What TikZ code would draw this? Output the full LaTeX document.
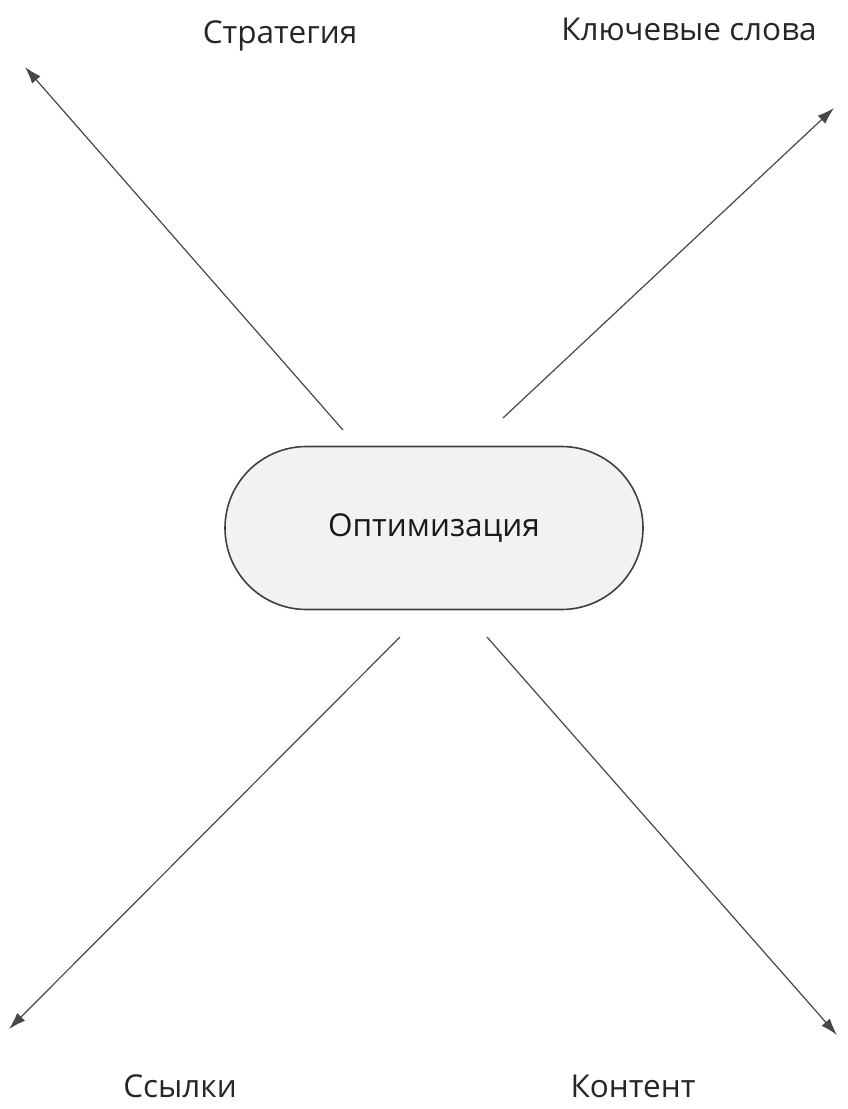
\documentclass[tikz,border=0pt]{standalone}
\usepackage{fontspec}
\setmainfont{Open Sans}
\usetikzlibrary{arrows.meta,shapes.misc}
\begin{document}
\begin{tikzpicture}[x=1pt,y=-1pt,
  lbl/.style={font=\fontsize{31.5}{36}\selectfont, text=black!85, inner sep=0pt, anchor=base, text depth=0pt},
  arr/.style={draw=black!72, line width=1.2pt, -{Latex[length=17pt,width=11pt]}},
  hub/.style={rounded rectangle, draw=black!75, line width=1.6pt, fill=black!5,
    minimum width=418pt, minimum height=163pt, inner sep=0pt,
    font=\fontsize{31.5}{36}\selectfont, text=black!90}]
\useasboundingbox (0,0) rectangle (847,1109);
\node[hub] (c) at (434,528) {Оптимизация};
\node[lbl] (s) at (280,43) {Стратегия};
\node[lbl] (k) at (689,40) {Ключевые слова};
\node[lbl] (l) at (180,1097) {Ссылки};
\node[lbl] (o) at (633,1097) {Контент};
\coordinate (s0) at (343,430); \coordinate (s1) at (25,67);
\coordinate (k0) at (503,418); \coordinate (k1) at (834,108);
\coordinate (l0) at (400,637); \coordinate (l1) at (9,1029);
\coordinate (o0) at (487,637); \coordinate (o1) at (837,1035);
\draw[arr] (s0) -- (s1);
\draw[arr] (k0) -- (k1);
\draw[arr] (l0) -- (l1);
\draw[arr] (o0) -- (o1);
\end{tikzpicture}
\end{document}
